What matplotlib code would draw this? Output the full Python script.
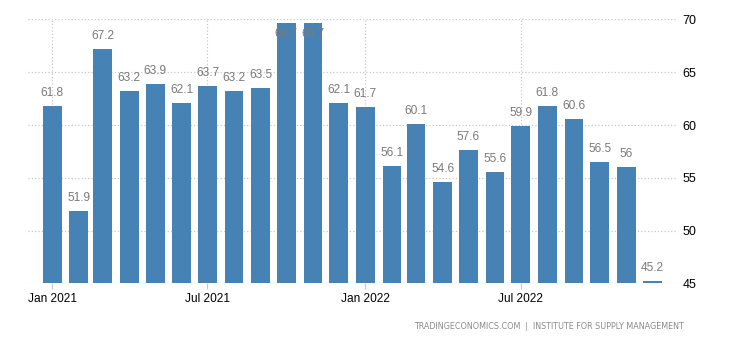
import datetime as dt
import matplotlib
matplotlib.use('Agg')
import matplotlib.pyplot as plt

plt.rcParams['font.family'] = ['Liberation Sans', 'DejaVu Sans']

# ISM services new orders, monthly
months = ['2021-01', '2021-02', '2021-03', '2021-04', '2021-05', '2021-06',
          '2021-07', '2021-08', '2021-09', '2021-10', '2021-11', '2021-12',
          '2022-01', '2022-02', '2022-03', '2022-04', '2022-05', '2022-06',
          '2022-07', '2022-08', '2022-09', '2022-10', '2022-11', '2022-12']
values = [61.8, 51.9, 67.2, 63.2, 63.9, 62.1, 63.7, 63.2, 63.5, 69.7, 69.7, 62.1,
          61.7, 56.1, 60.1, 54.6, 57.6, 55.6, 59.9, 61.8, 60.6, 56.5, 56.0, 45.2]
y_ticks = [45, 50, 55, 60, 65, 70]
x_ticks = ['2021-01', '2021-07', '2022-01', '2022-07']
x_tick_labels = ['Jan 2021', 'Jul 2021', 'Jan 2022', 'Jul 2022']
footer = 'TRADINGECONOMICS.COM  |  INSTITUTE FOR SUPPLY MANAGEMENT'

bar_color = '#4682b4'
label_color = '#7a7a7a'
grid_color = '#c8c8c8'

def to_date(s):
    y, m = s.split('-')
    return dt.datetime(int(y), int(m), 1)

dates = [to_date(m) for m in months]
ymin, ymax = 45, 70

fig = plt.figure(figsize=(7.3, 3.4), dpi=100)
ax = fig.add_axes([0.0384, 0.1662, 0.889, 0.7765])

ax.bar(dates, values, width=22, color=bar_color, zorder=2)

for d, v in zip(dates, values):
    txt = '%g' % v
    if v + 1.5 > ymax:
        # label would fall off the top, put it inside the bar
        ax.annotate(txt, (d, ymax), xytext=(0, -6), textcoords='offset points',
                    ha='center', va='top', fontsize=8.6, color=label_color, zorder=3)
    else:
        ax.annotate(txt, (d, v), xytext=(0, 5), textcoords='offset points',
                    ha='center', va='bottom', fontsize=8.6, color=label_color, zorder=3)

ax.set_ylim(ymin, ymax)
ax.set_xlim(dt.datetime(2020, 12, 4), dt.datetime(2022, 12, 30))
ax.set_yticks(y_ticks)
ax.yaxis.tick_right()
ax.tick_params(axis='y', length=0, pad=4, labelsize=9, colors='black')
ax.set_xticks([to_date(t) for t in x_ticks])
ax.set_xticklabels(x_tick_labels)
ax.tick_params(axis='x', length=4, width=0.8, color=grid_color, pad=3, labelsize=8.6)

ax.grid(True, linestyle=':', color=grid_color, linewidth=0.9, zorder=0)
for s in ax.spines.values():
    s.set_visible(False)

fig.text(0.937, 0.039, footer, ha='right', va='center', fontsize=5.8,
         family='DejaVu Sans', color='#8a8a8a')

fig.savefig('out.png', dpi=100)
